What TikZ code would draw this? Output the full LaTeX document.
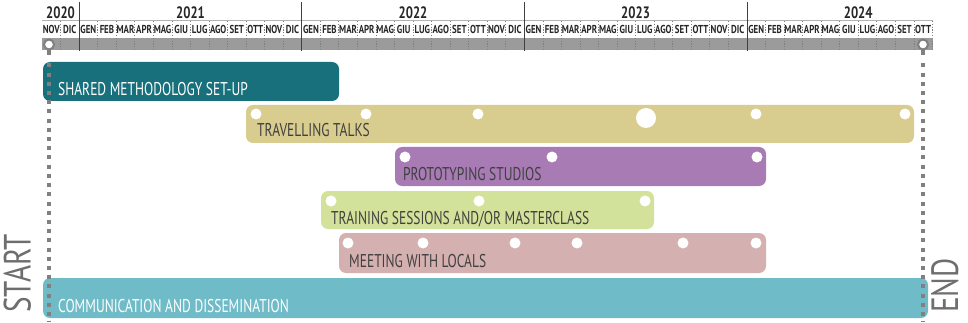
\documentclass[tikz,border=0pt]{standalone}
\usepackage{fontspec}
\newfontfamily\condfont[FakeStretch=0.77]{PT Sans}
\newfontfamily\barfont[FakeStretch=0.727]{PT Sans}
\definecolor{tealdark}{RGB}{23,112,123}
\definecolor{khaki}{RGB}{216,204,142}
\definecolor{lilac}{RGB}{168,123,180}
\definecolor{lime}{RGB}{211,226,154}
\definecolor{rose}{RGB}{213,176,176}
\definecolor{tealight}{RGB}{111,188,200}
\definecolor{inkgrey}{RGB}{64,64,64}
\definecolor{railgrey}{RGB}{155,155,155}
\definecolor{pingrey}{RGB}{128,128,128}
\definecolor{wordgrey}{RGB}{110,110,110}
\begin{document}
\begin{tikzpicture}[x=1pt,y=-1pt,
  monthlabel/.style={anchor=base,inner sep=0,text=black!85,font=\condfont\bfseries\fontsize{11.5}{11.5}\selectfont},
  yearlabel/.style={anchor=base,inner sep=0,text=black!85,font=\condfont\bfseries\fontsize{16.5}{16.5}\selectfont},
  sepline/.style={draw=pingrey,line width=0.7pt,dash pattern=on 1.3pt off 1.5pt},
  yearline/.style={draw=black!75,line width=0.8pt},
  bar/.style={rounded corners=7pt},
  barlabel/.style={anchor=base west,inner sep=0,font=\barfont\fontsize{18.5}{18.5}\selectfont},
  hole/.style={fill=white},
  pin/.style={circle,draw=pingrey,fill=white,line width=2pt,minimum size=10pt,inner sep=0},
  endline/.style={draw=pingrey,line width=4pt,dash pattern=on 4pt off 5.2pt},
  edgeword/.style={rotate=90,anchor=base west,inner sep=0,text=wordgrey,font=\condfont\fontsize{38}{38}\selectfont}]
\useasboundingbox (0,0) rectangle (968,323);

% ---- time axis ----
\fill[railgrey] (42,38.5) rectangle (932.5,50.5);
\draw[black!30,line width=0.5pt] (42,20.5) -- (932.5,20.5);
\foreach \k in {1,...,48}
  \draw[sepline] ({42+\k*18.55},21) -- ({42+\k*18.55},50.5);
\foreach \k in {2,14,26,38}
  \draw[yearline] ({42+\k*18.55},2) -- ({42+\k*18.55},51);

\foreach \m [count=\i from 0] in {NOV,DIC,
  GEN,FEB,MAR,APR,MAG,GIU,LUG,AGO,SET,OTT,NOV,DIC,
  GEN,FEB,MAR,APR,MAG,GIU,LUG,AGO,SET,OTT,NOV,DIC,
  GEN,FEB,MAR,APR,MAG,GIU,LUG,AGO,SET,OTT,NOV,DIC,
  GEN,FEB,MAR,APR,MAG,GIU,LUG,AGO,SET,OTT}
  \node[monthlabel] (mon\i) at ({42+(\i+0.5)*18.55},33.5) {\m};

\node[yearlabel] (y2020) at (60.5,18.3) {2020};
\node[yearlabel] (y2021) at (190.5,18.3) {2021};
\node[yearlabel] (y2022) at (413,18.3) {2022};
\node[yearlabel] (y2023) at (635.6,18.3) {2023};
\node[yearlabel] (y2024) at (858.2,18.3) {2024};

% ---- activity bars ----
\fill[tealdark,bar] (43,62) rectangle (339,101);
\node[barlabel,text=white] (shared) at (58,96) {SHARED METHODOLOGY SET-UP};

\fill[khaki,bar] (246,105) rectangle (914,143);
\node[barlabel,text=inkgrey] (talks) at (257,137) {TRAVELLING TALKS};
\foreach \x in {256,366,478,756,905}
  \fill[hole] (\x,114) circle[radius=5.5];
\fill[hole] (646,118) circle[radius=10];

\fill[lilac,bar] (395,147) rectangle (766,186);
\node[barlabel,text=inkgrey] (studios) at (403,181) {PROTOTYPING STUDIOS};
\foreach \x in {405,552,757}
  \fill[hole] (\x,157) circle[radius=5.5];

\fill[lime,bar] (321,191) rectangle (654,229);
\node[barlabel,text=inkgrey] (training) at (331,224) {TRAINING SESSIONS AND/OR MASTERCLASS};
\foreach \x in {331,479,645}
  \fill[hole] (\x,201) circle[radius=5.5];

\fill[rose,bar] (339,233) rectangle (766,273);
\node[barlabel,text=inkgrey] (locals) at (349,267) {MEETING WITH LOCALS};
\foreach \x in {348,423,515,577,683,756}
  \fill[hole] (\x,243) circle[radius=5.5];

\fill[tealight,bar] (43,278) rectangle (928,318);
\node[barlabel,text=white] (comm) at (58,312) {COMMUNICATION AND DISSEMINATION};

% ---- start / end markers ----
\fill[pingrey] (47.3,48) rectangle (50.7,55);
\fill[pingrey] (921.3,48) rectangle (924.7,55);
\node[pin] (startpin) at (49,44.5) {};
\node[pin] (endpin) at (923,44.5) {};
\coordinate (startfoot) at (49,322);
\coordinate (endfoot) at (923,322);
\draw[endline] ([yshift=-13pt]startpin.south) -- (startfoot);
\draw[endline] ([yshift=-13pt]endpin.south) -- (endfoot);

\node[edgeword] (start) at (30.5,313) {START};
\node[edgeword] (finish) at (958,313) {END};
\end{tikzpicture}
\end{document}
